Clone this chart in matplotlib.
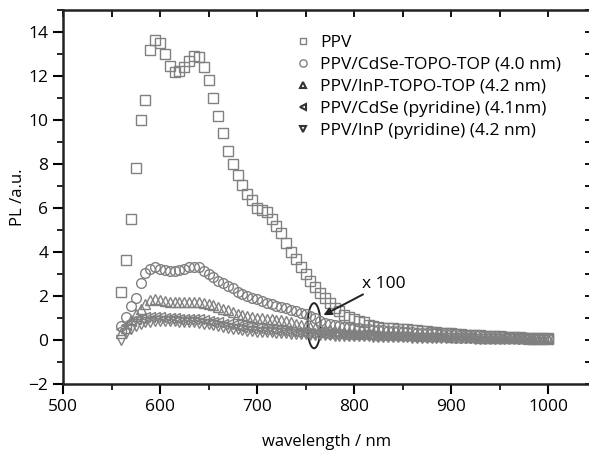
import numpy as np
import matplotlib.pyplot as plt
from matplotlib.patches import Ellipse
from matplotlib.ticker import MultipleLocator

plt.rcParams['font.family'] = ['Open Sans', 'DejaVu Sans']

# wavelength grid (nm)
wl = np.arange(560, 1001, 5)

ppv = [2.2, 3.65, 5.5, 7.8, 10.0, 10.9, 13.2, 13.65, 13.5, 13.0,
       12.45, 12.2, 12.25, 12.4, 12.7, 12.9, 12.85, 12.4, 11.8, 11.0,
       10.2, 9.4, 8.6, 8.0, 7.5, 7.05, 6.65, 6.35, 6.0, 5.9,
       5.8, 5.5, 5.2, 4.85, 4.4, 4.0, 3.7, 3.3, 3.0, 2.7,
       2.4, 2.15, 1.9, 1.7, 1.45, 1.3, 1.15, 1.05, 0.95, 0.88,
       0.8, 0.7, 0.62, 0.58, 0.56, 0.55, 0.54, 0.52, 0.5, 0.48,
       0.46, 0.44, 0.42, 0.4, 0.38, 0.36, 0.34, 0.32, 0.3, 0.28,
       0.27, 0.25, 0.24, 0.22, 0.21, 0.2, 0.18, 0.17, 0.16, 0.15,
       0.14, 0.13, 0.12, 0.11, 0.1, 0.09, 0.08, 0.08, 0.07]

cdse_topo = [0.65, 1.06, 1.55, 1.9, 2.6, 3.05, 3.25, 3.3, 3.25, 3.2,
             3.15, 3.15, 3.2, 3.25, 3.3, 3.33, 3.3, 3.15, 3.0, 2.85,
             2.7, 2.6, 2.45, 2.35, 2.2, 2.1, 2.0, 1.93, 1.85, 1.78,
             1.7, 1.63, 1.56, 1.5, 1.45, 1.38, 1.32, 1.25, 1.2, 1.1,
             1.0, 0.85, 0.78, 0.72, 0.67, 0.64, 0.61, 0.59, 0.56, 0.53,
             0.5, 0.48, 0.46, 0.45, 0.44, 0.42, 0.4, 0.39, 0.38, 0.36,
             0.35, 0.34, 0.33, 0.32, 0.31, 0.3, 0.29, 0.28, 0.27, 0.26,
             0.25, 0.24, 0.23, 0.22, 0.21, 0.2, 0.19, 0.18, 0.17, 0.16,
             0.15, 0.14, 0.13, 0.12, 0.11, 0.1, 0.1, 0.09, 0.08]

inp_topo = [0.3, 0.55, 0.9, 1.2, 1.4, 1.65, 1.8, 1.85, 1.8, 1.78,
            1.75, 1.75, 1.75, 1.75, 1.75, 1.75, 1.72, 1.7, 1.65, 1.58,
            1.5, 1.42, 1.35, 1.28, 1.2, 1.15, 1.1, 1.05, 1.02, 1.0,
            0.97, 0.95, 0.92, 0.9, 0.85, 0.8, 0.75, 0.7, 0.65, 0.6,
            0.55, 0.5, 0.47, 0.44, 0.42, 0.4, 0.38, 0.36, 0.35, 0.34,
            0.33, 0.32, 0.31, 0.3, 0.29, 0.28, 0.27, 0.26, 0.25, 0.24,
            0.23, 0.22, 0.21, 0.2, 0.19, 0.18, 0.17, 0.16, 0.15, 0.15,
            0.14, 0.13, 0.13, 0.12, 0.11, 0.11, 0.1, 0.1, 0.09, 0.09,
            0.08, 0.08, 0.07, 0.07, 0.06, 0.06, 0.06, 0.05, 0.05]

cdse_pyr = [0.5, 0.7, 0.85, 0.95, 1.0, 1.05, 1.05, 1.05, 1.03, 1.0,
            1.0, 0.98, 0.97, 0.97, 0.97, 0.96, 0.95, 0.92, 0.88, 0.84,
            0.8, 0.75, 0.72, 0.68, 0.64, 0.6, 0.57, 0.55, 0.53, 0.52,
            0.5, 0.48, 0.46, 0.44, 0.42, 0.4, 0.38, 0.36, 0.34, 0.33,
            0.32, 0.3, 0.29, 0.28, 0.27, 0.26, 0.25, 0.24, 0.23, 0.22,
            0.22, 0.21, 0.2, 0.2, 0.19, 0.18, 0.18, 0.17, 0.16, 0.16,
            0.15, 0.15, 0.14, 0.14, 0.13, 0.13, 0.12, 0.12, 0.11, 0.11,
            0.1, 0.1, 0.1, 0.09, 0.09, 0.08, 0.08, 0.08, 0.07, 0.07,
            0.07, 0.06, 0.06, 0.06, 0.06, 0.05, 0.05, 0.05, 0.05]

inp_pyr = [0.0, 0.3, 0.5, 0.65, 0.75, 0.8, 0.82, 0.85, 0.85, 0.85,
           0.85, 0.85, 0.84, 0.83, 0.82, 0.8, 0.78, 0.75, 0.72, 0.68,
           0.64, 0.6, 0.56, 0.52, 0.48, 0.45, 0.42, 0.4, 0.38, 0.37,
           0.36, 0.35, 0.33, 0.32, 0.3, 0.29, 0.28, 0.27, 0.26, 0.25,
           0.24, 0.23, 0.22, 0.21, 0.2, 0.2, 0.19, 0.18, 0.18, 0.17,
           0.16, 0.16, 0.15, 0.15, 0.14, 0.14, 0.13, 0.13, 0.12, 0.12,
           0.11, 0.11, 0.1, 0.1, 0.1, 0.09, 0.09, 0.08, 0.08, 0.08,
           0.07, 0.07, 0.07, 0.06, 0.06, 0.06, 0.05, 0.05, 0.05, 0.05,
           0.04, 0.04, 0.04, 0.04, 0.03, 0.03, 0.03, 0.03, 0.03]

labels = ['PPV', 'PPV/CdSe-TOPO-TOP (4.0 nm)', 'PPV/InP-TOPO-TOP (4.2 nm)',
          'PPV/CdSe (pyridine) (4.1nm)', 'PPV/InP (pyridine) (4.2 nm)']
markers = ['s', 'o', '^', '<', 'v']
sizes = [6.5, 7, 6.5, 6.5, 6.5]
series = [ppv, cdse_topo, inp_topo, cdse_pyr, inp_pyr]

fig = plt.figure(figsize=(5.89, 4.57), dpi=100)
ax = fig.add_axes([63 / 589, 73 / 457, 527.5 / 589, 374 / 457])

grey = '#808080'
for y, m, s, lab in zip(series[::-1], markers[::-1], sizes[::-1], labels[::-1]):
    ax.plot(wl, y, linestyle='none', marker=m, ms=s, mfc='none',
            mec=grey, mew=1.0, label=lab)

h, l = ax.get_legend_handles_labels()
leg = ax.legend(h[::-1], l[::-1], loc='upper left', bbox_to_anchor=(0.425, 0.952),
                frameon=False, fontsize=12.5, handlelength=1.0, handletextpad=0.5,
                labelspacing=0.33, borderaxespad=0, markerscale=0.75)
for lh in leg.legend_handles[2:]:
    lh.set_markeredgecolor('#333333')
    lh.set_markeredgewidth(1.5)

ax.set_xlim(500, 1043.8)
ax.set_ylim(-2, 15)
ax.xaxis.set_major_locator(MultipleLocator(100))
ax.xaxis.set_minor_locator(MultipleLocator(50))
ax.yaxis.set_major_locator(MultipleLocator(2))
ax.yaxis.set_minor_locator(MultipleLocator(1))
ax.tick_params(which='major', direction='out', length=7, width=1.5, labelsize=12.5)
ax.tick_params(which='minor', direction='out', length=4, width=1.2)
for s in ax.spines.values():
    s.set_linewidth(1.8)
    s.set_color('#222222')
ax.spines['right'].set_visible(False)

top = ax.secondary_xaxis('top')
top.xaxis.set_major_locator(MultipleLocator(50))
top.tick_params(direction='in', length=5, width=1.3, labeltop=False)
top.spines['top'].set_visible(False)
right = ax.secondary_yaxis('right')
right.yaxis.set_major_locator(MultipleLocator(1))
right.tick_params(direction='in', length=4, width=1.3, labelright=False)
right.spines['right'].set_visible(False)

ax.set_xlabel('wavelength / nm', fontsize=12, labelpad=14)
ax.set_ylabel('PL /a.u.', fontsize=12, labelpad=2)

ax.add_patch(Ellipse((758.8, 0.65), 13.4, 2.05, fill=False, lw=1.4, ec='#222222'))
ax.annotate('x 100', xy=(768.5, 1.13), xytext=(808, 2.2), fontsize=12.5,
            ha='left', va='bottom',
            arrowprops=dict(arrowstyle='-|>', color='#222222', lw=1.4,
                            mutation_scale=11, shrinkA=0, shrinkB=0))

fig.savefig('out.png', dpi=100)
